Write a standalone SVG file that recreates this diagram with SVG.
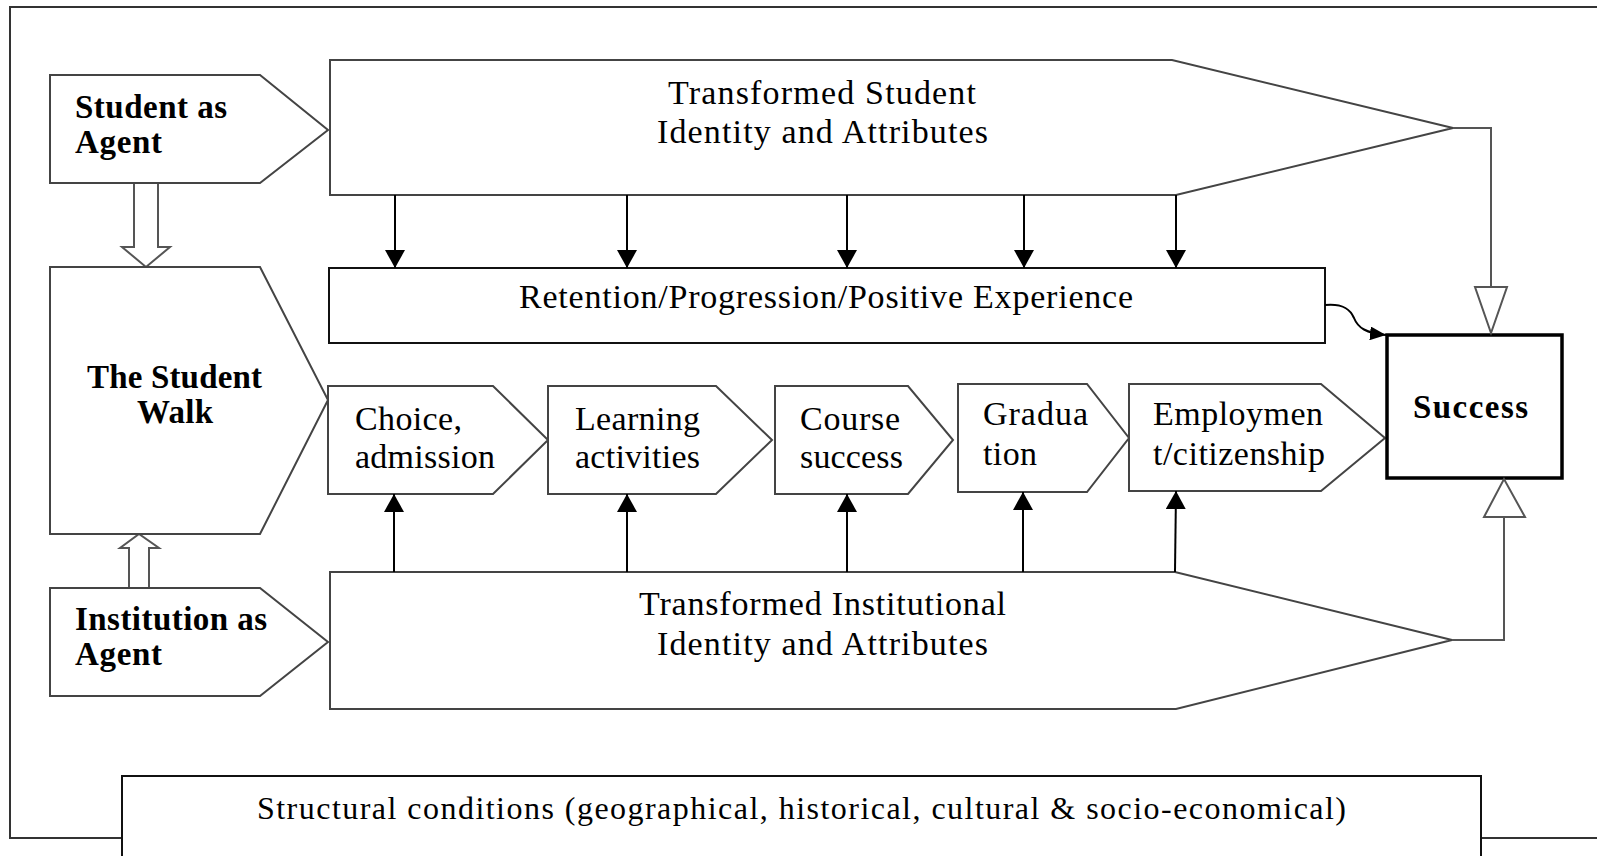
<svg xmlns="http://www.w3.org/2000/svg" width="1597" height="856" viewBox="0 0 1597 856">
  <style>
    .shape { fill: #fff; stroke: #444; stroke-width: 2; stroke-linejoin: miter; }
    .box { fill: #fff; stroke: #111; stroke-width: 2; }
    .hollow { fill: #fff; stroke: #555; stroke-width: 2; stroke-linejoin: miter; }
    .lbl { font-family: "Liberation Serif", "Times New Roman", serif; font-size: 34px; fill: #000; }
    .bold { font-weight: bold; font-size: 33px; }
    .small { font-size: 32px; }
    .conn { fill: none; stroke: #000; stroke-width: 2; }
    .grey { fill: none; stroke: #555; stroke-width: 2; }
  </style>
  <defs>
    <marker id="head" viewBox="0 0 18 20" refX="18" refY="10" markerWidth="18" markerHeight="20" markerUnits="userSpaceOnUse" orient="auto">
      <path d="M0,0 L18,10 L0,20 Z" fill="#000"/>
    </marker>
    <marker id="headSmall" viewBox="0 0 16 14" refX="16" refY="7" markerWidth="16" markerHeight="14" markerUnits="userSpaceOnUse" orient="auto">
      <path d="M0,0 L16,7 L0,14 Z" fill="#000"/>
    </marker>
  </defs>

  <rect width="1597" height="856" fill="#fff"/>

  <!-- outer frame -->
  <path d="M1600,7 H10 V838 H1600" fill="none" stroke="#333" stroke-width="2"/>

  <!-- block arrows between the agents and the student walk -->
  <g id="block-arrows">
    <polygon class="hollow" points="134,183 158,183 158,247 170,247 146,267 122,247 134,247"/>
    <polygon class="hollow" points="129,588 129,548 120,548 139,534 159,548 149,548 149,588"/>
  </g>

  <g id="student-agent">
    <polygon class="shape" points="50,75 260,75 328,130 260,183 50,183"/>
    <text class="lbl bold" x="75" y="118" textLength="152" lengthAdjust="spacing">Student as</text>
    <text class="lbl bold" x="75" y="153" textLength="87" lengthAdjust="spacing">Agent</text>
  </g>

  <g id="student-walk">
    <polygon class="shape" points="50,267 260,267 328,400 260,534 50,534"/>
    <text class="lbl bold" x="87" y="388" textLength="175" lengthAdjust="spacing">The Student</text>
    <text class="lbl bold" x="137" y="423" textLength="76" lengthAdjust="spacing">Walk</text>
  </g>

  <g id="institution-agent">
    <polygon class="shape" points="50,588 260,588 328,642 260,696 50,696"/>
    <text class="lbl bold" x="75" y="630" textLength="192" lengthAdjust="spacing">Institution as</text>
    <text class="lbl bold" x="75" y="665" textLength="87" lengthAdjust="spacing">Agent</text>
  </g>

  <g id="student-identity">
    <polygon class="shape" points="330,60 1172,60 1453,128 1176,195 330,195"/>
    <text class="lbl" x="668" y="104" textLength="308" lengthAdjust="spacing">Transformed Student</text>
    <text class="lbl" x="657" y="143" textLength="331" lengthAdjust="spacing">Identity and Attributes</text>
  </g>

  <g id="retention">
    <rect class="box" x="329" y="268" width="996" height="75"/>
    <text class="lbl" x="519" y="308" textLength="614" lengthAdjust="spacing">Retention/Progression/Positive Experience</text>
  </g>

  <g id="choice">
    <polygon class="shape" points="328,386 493,386 548,440 493,494 328,494"/>
    <text class="lbl" x="355" y="430" textLength="107" lengthAdjust="spacing">Choice,</text>
    <text class="lbl" x="355" y="468" textLength="140" lengthAdjust="spacing">admission</text>
  </g>

  <g id="learning">
    <polygon class="shape" points="548,386 716,386 772,440 716,494 548,494"/>
    <text class="lbl" x="575" y="430" textLength="125" lengthAdjust="spacing">Learning</text>
    <text class="lbl" x="575" y="468" textLength="125" lengthAdjust="spacing">activities</text>
  </g>

  <g id="course">
    <polygon class="shape" points="775,386 908,386 953,440 908,494 775,494"/>
    <text class="lbl" x="800" y="430" textLength="100" lengthAdjust="spacing">Course</text>
    <text class="lbl" x="800" y="468" textLength="103" lengthAdjust="spacing">success</text>
  </g>

  <g id="graduation">
    <polygon class="shape" points="958,384 1087,384 1129,438 1087,492 958,492"/>
    <text class="lbl" x="983" y="425" textLength="105" lengthAdjust="spacing">Gradua</text>
    <text class="lbl" x="983" y="465" textLength="54" lengthAdjust="spacing">tion</text>
  </g>

  <g id="employment">
    <polygon class="shape" points="1129,384 1321,384 1385,438 1321,491 1129,491"/>
    <text class="lbl" x="1153" y="425" textLength="170" lengthAdjust="spacing">Employmen</text>
    <text class="lbl" x="1153" y="465" textLength="172" lengthAdjust="spacing">t/citizenship</text>
  </g>

  <g id="institution-identity">
    <polygon class="shape" points="330,572 1175,572 1452,640 1176,709 330,709"/>
    <text class="lbl" x="639" y="615" textLength="367" lengthAdjust="spacing">Transformed Institutional</text>
    <text class="lbl" x="657" y="655" textLength="331" lengthAdjust="spacing">Identity and Attributes</text>
  </g>

  <g id="success">
    <rect x="1387" y="335" width="175" height="143" fill="#fff" stroke="#000" stroke-width="3.5"/>
    <text class="lbl bold" x="1413" y="418" textLength="115" lengthAdjust="spacing">Success</text>
  </g>

  <g id="structural">
    <rect class="box" x="122" y="776" width="1359" height="130"/>
    <text class="lbl small" x="257" y="819" textLength="1089" lengthAdjust="spacing">Structural conditions (geographical, historical, cultural &amp; socio-economical)</text>
  </g>

  <g id="connectors">
    <!-- student identity feeding retention -->
    <line class="conn" x1="395" y1="195" x2="395" y2="268" marker-end="url(#head)"/>
    <line class="conn" x1="627" y1="195" x2="627" y2="268" marker-end="url(#head)"/>
    <line class="conn" x1="847" y1="195" x2="847" y2="268" marker-end="url(#head)"/>
    <line class="conn" x1="1024" y1="195" x2="1024" y2="268" marker-end="url(#head)"/>
    <line class="conn" x1="1176" y1="195" x2="1176" y2="268" marker-end="url(#head)"/>

    <!-- institutional identity feeding the walk stages -->
    <line class="conn" x1="394" y1="572" x2="394" y2="494" marker-end="url(#head)"/>
    <line class="conn" x1="627" y1="572" x2="627" y2="494" marker-end="url(#head)"/>
    <line class="conn" x1="847" y1="572" x2="847" y2="494" marker-end="url(#head)"/>
    <line class="conn" x1="1023" y1="572" x2="1023" y2="492" marker-end="url(#head)"/>
    <line class="conn" x1="1175" y1="572" x2="1176" y2="491" marker-end="url(#head)"/>

    <!-- retention to success -->
    <path class="conn" d="M1325,305 C1345,303 1351,311 1354,318 C1358,328 1366,333 1386,335" marker-end="url(#headSmall)"/>

    <!-- identity chevrons into success -->
    <polyline class="grey" points="1453,128 1491,128 1491,287"/>
    <polygon class="hollow" points="1475,287 1507,287 1491,333"/>
    <polyline class="grey" points="1452,640 1504,640 1504,517"/>
    <polygon class="hollow" points="1484,517 1525,517 1504,479"/>
  </g>
</svg>
